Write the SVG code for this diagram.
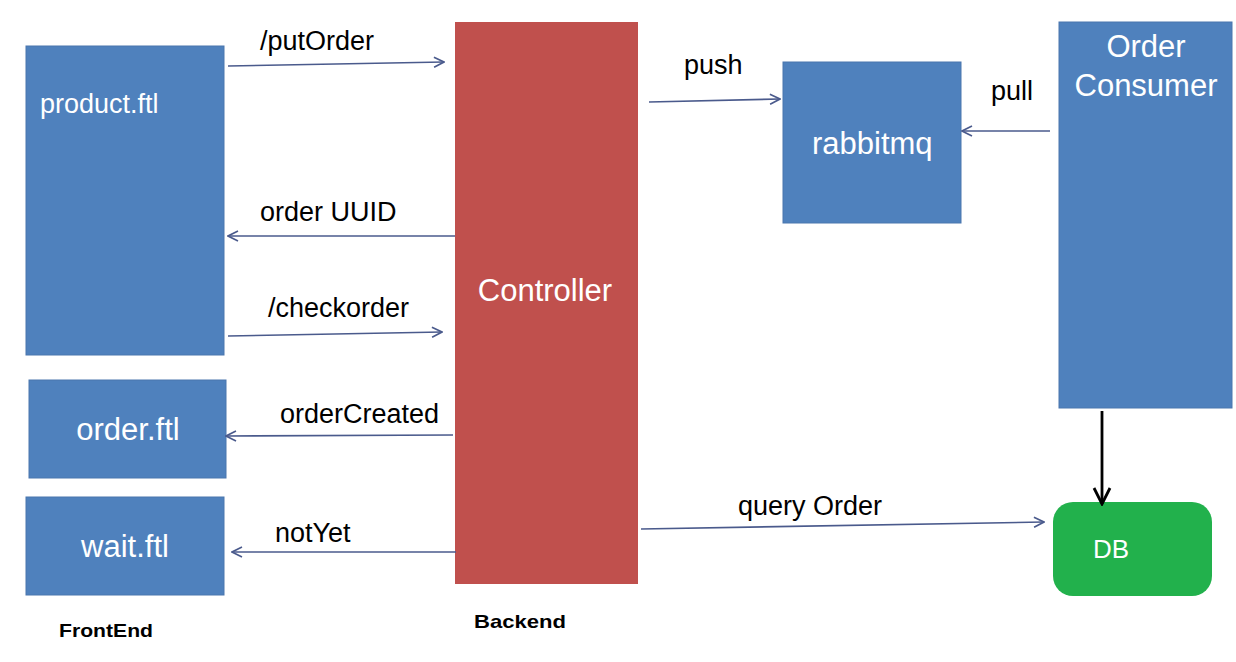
<svg xmlns="http://www.w3.org/2000/svg" width="1236" height="662" viewBox="0 0 1236 662">
<style>
.box{fill:#4F81BD;stroke:#4A76AE;stroke-width:1}
.wt{fill:#ffffff;font-family:"Liberation Sans",Arial,sans-serif;font-size:31px}
.lb{fill:#000000;font-family:"Liberation Sans",Arial,sans-serif;font-size:27px}
.cap{fill:#000000;font-family:"Liberation Sans",Arial,sans-serif;font-size:19px;font-weight:bold}
.ar{stroke:#4A5A8C;stroke-width:1.6;fill:none;marker-end:url(#ah)}
</style>
<defs>
<marker id="ah" viewBox="0 0 12 12" refX="11" refY="6" markerWidth="12" markerHeight="12" markerUnits="userSpaceOnUse" orient="auto">
<path d="M1,1 L11,6 L1,11" fill="none" stroke="#4A5A8C" stroke-width="1.6"/>
</marker>
<marker id="bh" viewBox="0 0 20 20" refX="18" refY="10" markerWidth="20" markerHeight="20" markerUnits="userSpaceOnUse" orient="auto">
<path d="M2,2 L18,10 L2,18" fill="none" stroke="#000" stroke-width="2.8"/>
</marker>
</defs>
<rect width="1236" height="662" fill="#ffffff"/>
<g id="product">
<rect class="box" x="26" y="46" width="198" height="309"/>
<text class="wt" x="40" y="113" style="font-size:27px">product.ftl</text>
</g>
<g id="order">
<rect class="box" x="29" y="380" width="197" height="98"/>
<text class="wt" x="128" y="440" text-anchor="middle">order.ftl</text>
</g>
<g id="wait">
<rect class="box" x="26" y="497" width="198" height="98"/>
<text class="wt" x="125" y="557" text-anchor="middle">wait.ftl</text>
</g>
<g id="controller">
<rect x="455" y="22" width="183" height="562" fill="#C0504D"/>
<text class="wt" x="545" y="301" text-anchor="middle">Controller</text>
</g>
<g id="rabbitmq">
<rect class="box" x="783" y="62" width="178" height="161"/>
<text class="wt" x="812" y="154">rabbitmq</text>
</g>
<g id="consumer">
<rect class="box" x="1059" y="22" width="173" height="386"/>
<text class="wt" x="1146" y="57" text-anchor="middle">Order</text>
<text class="wt" x="1146" y="96" text-anchor="middle">Consumer</text>
</g>
<g id="db">
<rect x="1053" y="502" width="159" height="94" rx="20" fill="#22B14C"/>
<text class="wt" x="1093" y="558" style="font-size:26px">DB</text>
</g>
<g id="connectors">
<line class="ar" x1="228" y1="66" x2="444" y2="62"/>
<line class="ar" x1="455" y1="236" x2="228" y2="236"/>
<line class="ar" x1="228" y1="336" x2="442" y2="332"/>
<line class="ar" x1="453" y1="435" x2="226" y2="436"/>
<line class="ar" x1="456" y1="552" x2="232" y2="552"/>
<line class="ar" x1="649" y1="102" x2="780" y2="99"/>
<line class="ar" x1="1050" y1="131" x2="962" y2="131"/>
<line class="ar" x1="641" y1="529" x2="1044" y2="522"/>
<line x1="1102" y1="411" x2="1102" y2="504" stroke="#000" stroke-width="2.8" marker-end="url(#bh)"/>
<text class="lb" x="260" y="50">/putOrder</text>
<text class="lb" x="260" y="221">order UUID</text>
<text class="lb" x="268" y="317">/checkorder</text>
<text class="lb" x="280" y="423">orderCreated</text>
<text class="lb" x="275" y="542">notYet</text>
<text class="lb" x="684" y="74">push</text>
<text class="lb" x="991" y="100">pull</text>
<text class="lb" x="738" y="515">query Order</text>
</g>
<text class="cap" x="59" y="637" textLength="94" lengthAdjust="spacingAndGlyphs">FrontEnd</text>
<text class="cap" x="474" y="628" textLength="92" lengthAdjust="spacingAndGlyphs">Backend</text>
</svg>
